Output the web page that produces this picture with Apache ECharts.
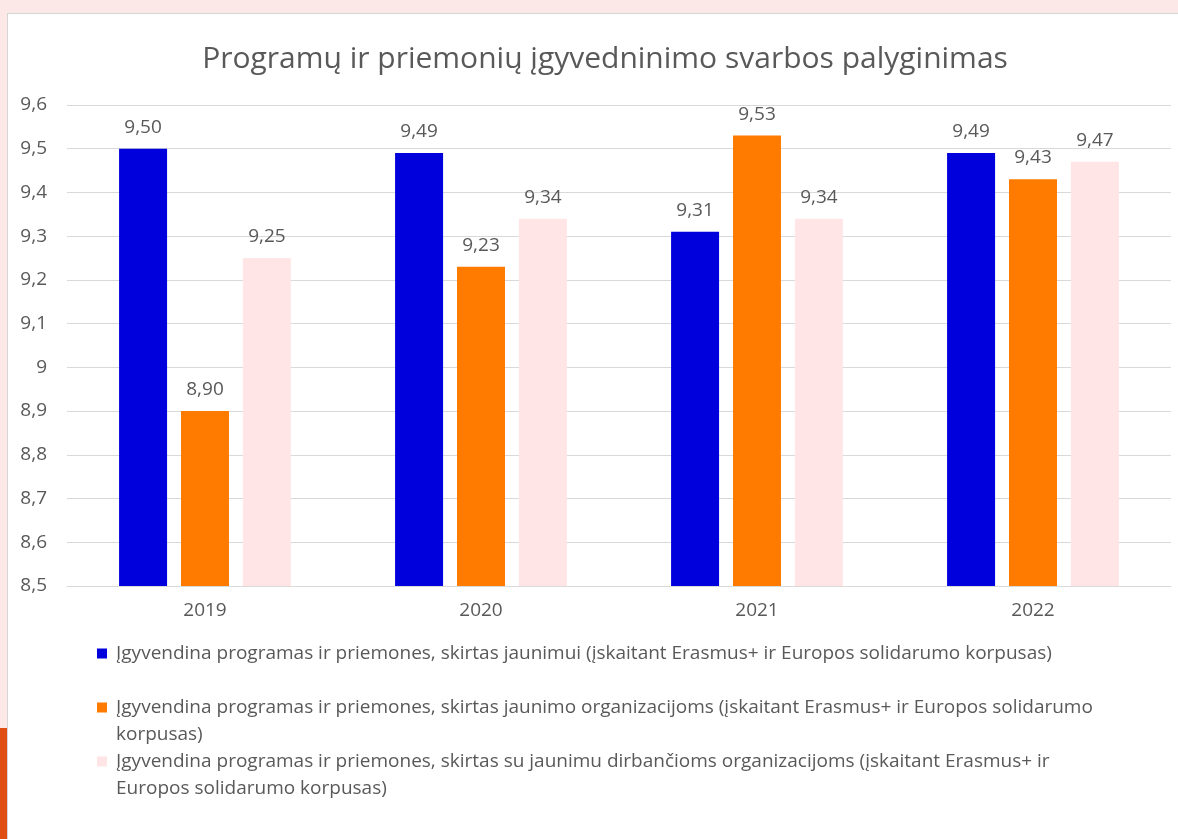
<!DOCTYPE html>
<html>
<head>
<meta charset="utf-8">
<script src="https://cdn.jsdelivr.net/npm/echarts@6/dist/echarts.min.js"></script>
<style>
  html, body { margin:0; padding:0; width:1178px; height:839px; overflow:hidden; background:#fde8e8; }
  #panel { position:absolute; left:7px; top:13px; width:1180px; height:840px; background:#ffffff; border:1px solid #d6d6d6; box-sizing:border-box; }
  #accent { position:absolute; left:0; top:728px; width:7px; height:111px; background:#e04e14; }
  #chart { position:absolute; left:0; top:0; width:1178px; height:839px; }
</style>
</head>
<body>
<div id="panel"></div>
<div id="accent"></div>
<div id="chart"></div>
<script>
const title = 'Programų ir priemonių įgyvedninimo svarbos palyginimas';
const categories = ['2019', '2020', '2021', '2022'];
const legendLines = [
  ['Įgyvendina programas ir priemones, skirtas jaunimui (įskaitant Erasmus+ ir Europos solidarumo korpusas)', ''],
  ['Įgyvendina programas ir priemones, skirtas jaunimo organizacijoms (įskaitant Erasmus+ ir Europos solidarumo', 'korpusas)'],
  ['Įgyvendina programas ir priemones, skirtas su jaunimu dirbančioms organizacijoms (įskaitant Erasmus+ ir', 'Europos solidarumo korpusas)']
];
const seriesNames = legendLines.map(l => l.filter(s => s).join(' '));
const youthValues = [9.50, 9.49, 9.31, 9.49];
const orgValues = [8.90, 9.23, 9.53, 9.43];
const workingOrgValues = [9.25, 9.34, 9.34, 9.47];
const colors = ['#0000dc', '#ff7b00', '#ffe5e6'];
const yMin = 8.5, yMax = 9.6, yStep = 0.1;

const FONT = '"Open Sans"';
const GREY = '#595959';
const chart = echarts.init(document.getElementById('chart'), null, {renderer:'canvas'});
const values = [youthValues, orgValues, workingOrgValues];

const rich = {
  t: {fontSize: 19, color: GREY, fontFamily: FONT, lineHeight: 27, padding: [0,0,0,9], verticalAlign:'middle'},
  sp: {width: 10, lineHeight: 27, verticalAlign:'middle'}
};
colors.forEach((c, i) => {
  rich['sq' + i] = {width: 10, height: 10, backgroundColor: c, verticalAlign:'middle', lineHeight: 27};
});

chart.setOption({
  backgroundColor: 'transparent',
  animation: false,
  title: {
    text: title, left: 600, textAlign: 'center', top: 39,
    textStyle: {fontFamily: FONT, fontSize: 30, fontWeight: 'normal', color: GREY}
  },
  grid: {left: 67, right: 7, top: 105, bottom: 253, containLabel: false},
  legend: {
    orient: 'vertical', left: 92, top: 640, padding: 0, itemGap: 0,
    itemWidth: 0, itemHeight: 0, icon: 'rect', selectedMode: false,
    data: seriesNames,
    textStyle: {fontFamily: FONT, fontSize: 19, color: GREY, lineHeight: 27, rich: rich},
    formatter: function (name) {
      const i = seriesNames.indexOf(name);
      const l = legendLines[i];
      return '{sq' + i + '|}{t|' + l[0] + '}\n{sp|}{t|' + (l[1] || ' ') + '}';
    }
  },
  xAxis: {
    type: 'category', data: categories,
    axisLine: {show: true, lineStyle: {color: '#d9d9d9', width: 1}},
    axisTick: {show: false},
    axisLabel: {fontFamily: FONT, fontSize: 19, color: GREY, margin: 15}
  },
  yAxis: {
    type: 'value', min: yMin, max: yMax, interval: yStep,
    axisLine: {show: false}, axisTick: {show: false},
    splitLine: {lineStyle: {color: '#d9d9d9', width: 1}},
    axisLabel: {
      fontFamily: FONT, fontSize: 19, color: GREY, margin: 20,
      formatter: v => {
        const r = Math.round(v * 10) / 10;
        return (Number.isInteger(r) ? String(r) : r.toFixed(1)).replace('.', ',');
      }
    }
  },
  series: seriesNames.map((name, i) => ({
    name: name, type: 'bar', data: values[i],
    barWidth: 48, barGap: '29%', barCategoryGap: '38%',
    itemStyle: {color: colors[i]},
    label: {
      show: true, position: 'top', distance: 12,
      fontFamily: FONT, fontSize: 19, color: GREY,
      formatter: p => p.value.toFixed(2).replace('.', ',')
    }
  }))
});
</script>
</body>
</html>
